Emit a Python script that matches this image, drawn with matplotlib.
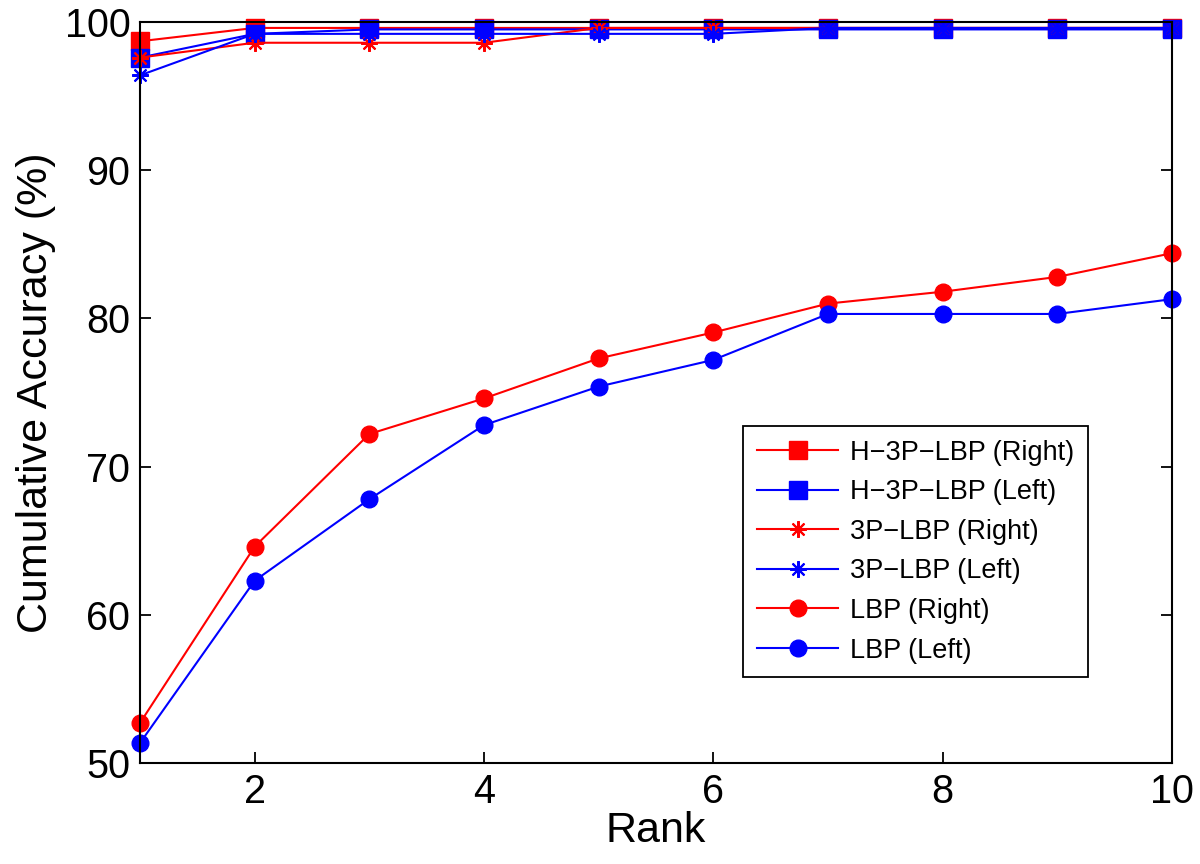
import matplotlib
matplotlib.use('Agg')
import matplotlib.pyplot as plt

plt.rcParams['font.family'] = ['Liberation Sans', 'DejaVu Sans']

rank = [1, 2, 3, 4, 5, 6, 7, 8, 9, 10]

h3p_right = [98.7, 99.6, 99.6, 99.6, 99.6, 99.6, 99.6, 99.6, 99.6, 99.6]
h3p_left = [97.6, 99.2, 99.5, 99.5, 99.5, 99.5, 99.5, 99.5, 99.5, 99.5]
p3_right = [97.6, 98.6, 98.6, 98.6, 99.6, 99.6, 99.6, 99.6, 99.6, 99.6]
p3_left = [96.4, 99.2, 99.2, 99.2, 99.2, 99.2, 99.6, 99.6, 99.6, 99.6]
lbp_right = [52.7, 64.6, 72.2, 74.6, 77.3, 79.05, 81.0, 81.8, 82.8, 84.4]
lbp_left = [51.35, 62.3, 67.8, 72.8, 75.4, 77.2, 80.3, 80.3, 80.3, 81.3]

labels = ['H\u22123P\u2212LBP (Right)', 'H\u22123P\u2212LBP (Left)',
          '3P\u2212LBP (Right)', '3P\u2212LBP (Left)',
          'LBP (Right)', 'LBP (Left)']

red = '#ff0000'
blue = '#0000ff'
star = (8, 2, 0)

fig = plt.figure(figsize=(12, 8.64), dpi=100)
ax = fig.add_axes([140/1200, 1 - 763/864, (1172-140)/1200, (763-22)/864])

ax.plot(rank, h3p_right, color=red, marker='s', ms=13, lw=1.5, label=labels[0], clip_on=False)
ax.plot(rank, h3p_left, color=blue, marker='s', ms=13, lw=1.5, label=labels[1], clip_on=False)
ax.plot(rank, p3_right, color=red, marker=star, ms=12, mew=1.5, lw=1.5, label=labels[2], clip_on=False)
ax.plot(rank, p3_left, color=blue, marker=star, ms=12, mew=1.5, lw=1.5, label=labels[3], clip_on=False)
ax.plot(rank, lbp_right, color=red, marker='o', ms=12, lw=1.5, label=labels[4], clip_on=False)
ax.plot(rank, lbp_left, color=blue, marker='o', ms=12, lw=1.5, label=labels[5], clip_on=False)

ax.set_xlim(1, 10)
ax.set_ylim(50, 100)
ax.set_xticks([2, 4, 6, 8, 10])
ax.set_yticks([50, 60, 70, 80, 90, 100])
ax.tick_params(direction='in', top=True, right=True, length=8, width=1.3, labelsize=28.5, pad=7)
for s in ax.spines.values():
    s.set_linewidth(1.5)

ax.set_xlabel('Rank', fontsize=31, labelpad=0)
ax.set_ylabel('Cumulative Accuracy (%)', fontsize=31, labelpad=6)

leg = ax.legend(loc='lower right', bbox_to_anchor=(0.9186, 0.116), borderaxespad=0,
                fontsize=19.5, fancybox=False, edgecolor='black', framealpha=1,
                handlelength=3.0, handletextpad=0.45, labelspacing=0.5, borderpad=0.5)
leg.get_frame().set_linewidth(1.3)

fig.savefig('out.png', dpi=100)
